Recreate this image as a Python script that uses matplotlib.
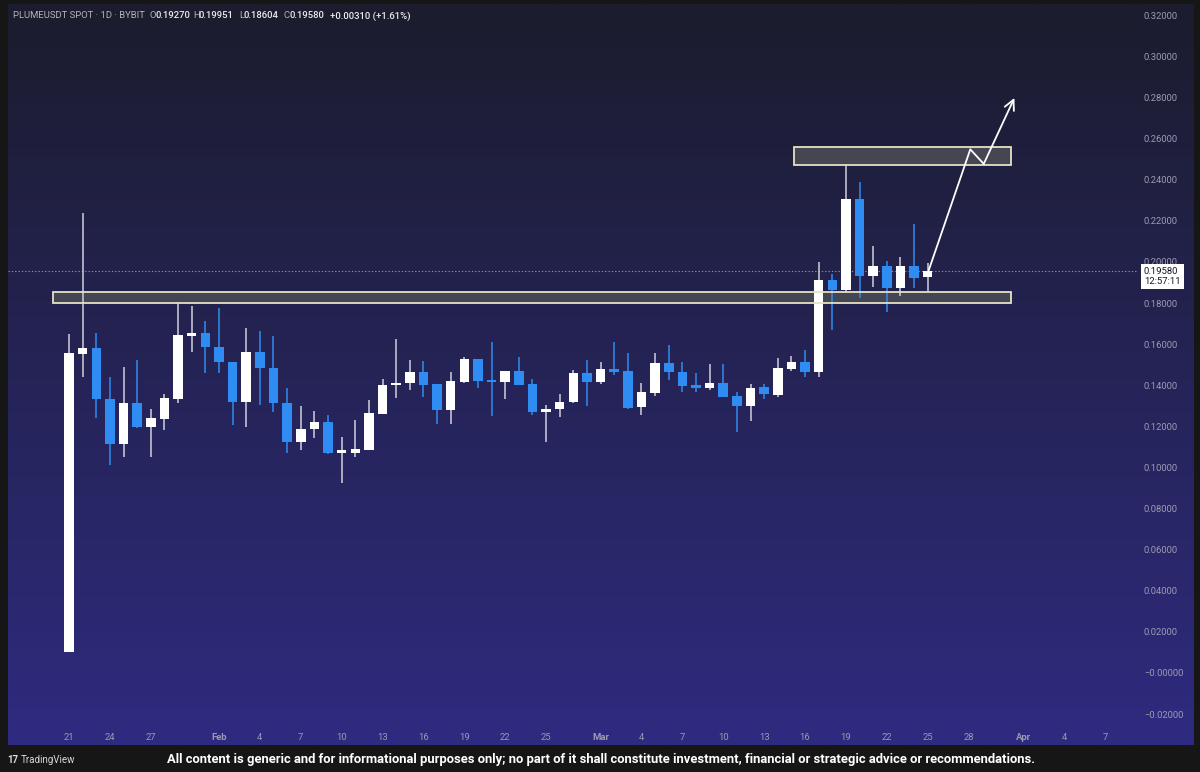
import numpy as np
import pandas as pd
import matplotlib
matplotlib.use("Agg")
import matplotlib.pyplot as plt
import matplotlib.dates as mdates
from matplotlib.patches import Rectangle
from matplotlib.transforms import blended_transform_factory

plt.rcParams['font.family'] = ['Roboto', 'DejaVu Sans']

# Daily candles, PLUMEUSDT spot (Bybit), 21 Jan .. 25 Mar
dates = pd.date_range("2025-01-21", periods=64, freq="D")
opens = [0.0102, 0.1550, 0.1580, 0.1333, 0.1114, 0.1312, 0.1196, 0.1235, 0.1332, 0.1641,
         0.1653, 0.1585, 0.1512, 0.1319, 0.1560, 0.1483, 0.1312, 0.1123, 0.1186, 0.1223,
         0.1072, 0.1072, 0.1085, 0.1260, 0.1400, 0.1410, 0.1466, 0.1405, 0.1280, 0.1418,
         0.1528, 0.1426, 0.1415, 0.1471, 0.1406, 0.1269, 0.1283, 0.1317, 0.1458, 0.1415,
         0.1478, 0.1471, 0.1293, 0.1364, 0.1507, 0.1466, 0.1400, 0.1385, 0.1410, 0.1348,
         0.1301, 0.1390, 0.1353, 0.1478, 0.1512, 0.1466, 0.1912, 0.1864, 0.2307, 0.1933,
         0.1980, 0.1875, 0.1980, 0.1927]
highs = [0.1650, 0.2240, 0.1655, 0.1440, 0.1490, 0.1523, 0.1286, 0.1356, 0.1800, 0.1786,
         0.1713, 0.1775, 0.1515, 0.1677, 0.1666, 0.1640, 0.1385, 0.1300, 0.1276, 0.1255,
         0.1150, 0.1231, 0.1328, 0.1429, 0.1625, 0.1523, 0.1518, 0.1405, 0.1466, 0.1536,
         0.1528, 0.1609, 0.1471, 0.1536, 0.1429, 0.1304, 0.1358, 0.1474, 0.1523, 0.1515,
         0.1609, 0.1556, 0.1410, 0.1556, 0.1596, 0.1515, 0.1458, 0.1502, 0.1502, 0.1369,
         0.1405, 0.1405, 0.1534, 0.1544, 0.1572, 0.1999, 0.1942, 0.2472, 0.2391, 0.2079,
         0.2006, 0.2023, 0.2185, 0.19951]
lows = [0.0102, 0.1440, 0.1240, 0.1012, 0.1053, 0.1192, 0.1053, 0.1180, 0.1312, 0.1564,
        0.1458, 0.1458, 0.1207, 0.1199, 0.1304, 0.1272, 0.1069, 0.1085, 0.1142, 0.1064,
        0.0923, 0.1053, 0.1085, 0.1260, 0.1337, 0.1377, 0.1345, 0.1212, 0.1212, 0.1410,
        0.1385, 0.1252, 0.1333, 0.1401, 0.1255, 0.1126, 0.1244, 0.1312, 0.1299, 0.1405,
        0.1450, 0.1285, 0.1255, 0.1348, 0.1426, 0.1369, 0.1369, 0.1377, 0.1342, 0.1174,
        0.1228, 0.1332, 0.1342, 0.1471, 0.1439, 0.1439, 0.1669, 0.1856, 0.1823, 0.1877,
        0.1758, 0.1836, 0.1872, 0.18604]
closes = [0.1557, 0.1580, 0.1333, 0.1114, 0.1312, 0.1196, 0.1240, 0.1337, 0.1645, 0.1653,
          0.1585, 0.1512, 0.1319, 0.1560, 0.1483, 0.1312, 0.1123, 0.1187, 0.1223, 0.1069,
          0.1076, 0.1090, 0.1264, 0.1401, 0.1413, 0.1466, 0.1401, 0.1280, 0.1422, 0.1528,
          0.1422, 0.1415, 0.1471, 0.1401, 0.1269, 0.1285, 0.1320, 0.1458, 0.1416, 0.1478,
          0.1466, 0.1288, 0.1369, 0.1507, 0.1463, 0.1397, 0.1388, 0.1410, 0.1342, 0.1301,
          0.1388, 0.1358, 0.1483, 0.1512, 0.1466, 0.1912, 0.1864, 0.2307, 0.1933, 0.1980,
          0.1875, 0.1980, 0.1921, 0.19580]

# Drawn zones and projected path
support_zone = (0.1799, 0.1856)
resist_zone = (0.2472, 0.2558)
zone_start = pd.Timestamp("2025-01-19 20:00")
resist_start = pd.Timestamp("2025-03-15 05:00")
zone_end = pd.Timestamp("2025-03-31 02:00")
path_dates = pd.to_datetime(["2025-03-25 01:40", "2025-03-28 03:00",
                             "2025-03-29 02:40", "2025-03-31 08:40"])
path_prices = [0.1958, 0.2548, 0.2477, 0.2798]

# Axis labels
x_tick_dates = pd.to_datetime(["2025-01-21", "2025-01-24", "2025-01-27", "2025-02-01", "2025-02-04",
                               "2025-02-07", "2025-02-10", "2025-02-13", "2025-02-16", "2025-02-19",
                               "2025-02-22", "2025-02-25", "2025-03-01", "2025-03-04", "2025-03-07",
                               "2025-03-10", "2025-03-13", "2025-03-16", "2025-03-19", "2025-03-22",
                               "2025-03-25", "2025-03-28", "2025-04-01", "2025-04-04", "2025-04-07"])
x_tick_labels = ["21", "24", "27", "Feb", "4", "7", "10", "13", "16", "19", "22", "25",
                 "Mar", "4", "7", "10", "13", "16", "19", "22", "25", "28", "Apr", "4", "7"]
y_ticks = [-0.02, 0.0, 0.02, 0.04, 0.06, 0.08, 0.10, 0.12, 0.14, 0.16,
           0.18, 0.20, 0.22, 0.24, 0.26, 0.28, 0.30, 0.32]
y_tick_labels = ["\u22120.02000", "\u22120.00000"] + [f"{v:.5f}" for v in y_ticks[2:]]

UP = "#ffffff"
DOWN = "#2f8cf2"
W, H = 1200, 772

fig = plt.figure(figsize=(W / 100, H / 100), dpi=100, facecolor="#161616")

# gradient panel
bg = fig.add_axes([8 / W, 1 - 745 / H, (1194 - 8) / W, (745 - 4) / H])
top = np.array([0x1b, 0x1c, 0x2d]) / 255
bot = np.array([0x2f, 0x2b, 0x80]) / 255
t = np.linspace(0, 1, 256)[:, None]
grad = top[None, :] * (1 - t) + bot[None, :] * t
bg.imshow(grad[:, None, :], aspect="auto", extent=[0, 1, 0, 1])
bg.axis("off")

ax = fig.add_axes([8 / W, 1 - 727 / H, (1138 - 8) / W, (727 - 4) / H])
ax.patch.set_alpha(0)
for s in ax.spines.values():
    s.set_visible(False)

x = mdates.date2num(dates)
x0 = x[0]
ax.set_xlim(x0 - 4.48, x0 + 78.43)
ax.set_ylim(-0.0263, 0.3255)

# zones
for (lo, hi), start in [(support_zone, zone_start), (resist_zone, resist_start)]:
    xs = mdates.date2num(start)
    xe = mdates.date2num(zone_end)
    ax.add_patch(Rectangle((xs, lo), xe - xs, hi - lo, facecolor="#4a4b55", alpha=0.9,
                           edgecolor="none", zorder=1))
    ax.add_patch(Rectangle((xs, lo), xe - xs, hi - lo, facecolor="none",
                           edgecolor="#e4e2c4", lw=1.3, zorder=4))

# candles
o = np.array(opens); c = np.array(closes); h = np.array(highs); l = np.array(lows)
up = c >= o
cols = np.where(up, UP, DOWN)
wick_cols = np.where(up, "#d0d0dc", DOWN)
ax.vlines(x, l, h, colors=wick_cols, lw=1.1, zorder=2)
body_lo = np.minimum(o, c)
body_h = np.maximum(np.abs(c - o), 0.0011)
ax.bar(x, body_h, bottom=body_lo, width=0.7, color=cols, edgecolor="none", zorder=3)

# last price line
ax.axhline(closes[-1], color="#8c8ca0", lw=0.8, ls=(0, (1.2, 1.8)), zorder=1)

# projected path
px = mdates.date2num(path_dates)
ax.plot(px[:-1], path_prices[:-1], color="white", lw=1.3, zorder=5, solid_capstyle="round")
ax.annotate("", xy=(px[-1], path_prices[-1]), xytext=(px[-2], path_prices[-2]),
            arrowprops=dict(arrowstyle="->", color="white", lw=1.3, mutation_scale=18,
                            shrinkA=0, shrinkB=0), zorder=5)

# axes ticks
ax.set_xticks(mdates.date2num(x_tick_dates))
ax.set_xticklabels(x_tick_labels)
for lab in ax.get_xticklabels():
    if lab.get_text() in ("Feb", "Mar", "Apr"):
        lab.set_fontweight("bold")
ax.tick_params(axis="x", length=0, pad=4, labelsize=6.8, labelcolor="#9a9ab2")
ax.yaxis.tick_right()
ax.set_yticks(y_ticks)
ax.set_yticklabels(y_tick_labels)
ax.tick_params(axis="y", length=0, pad=4.3, labelsize=6.8, labelcolor="#9a9ab2")

# last price tag (sits just under the price line, covering part of the 0.20000 label)
tr = blended_transform_factory(ax.transAxes, ax.transData)
tag_center = closes[-1] - 6 / 2055
ax.text(1.0 + 6 / 1130, tag_center, f"{closes[-1]:.5f}\n12:57:11", transform=tr,
        ha="left", va="center", fontsize=6.8, color="#131722", linespacing=1.05,
        bbox=dict(boxstyle="square,pad=0.35", fc="white", ec="none"), clip_on=False, zorder=6)

# header
hy = 1 - 16 / H
pieces = [("PLUMEUSDT SPOT \u00b7 1D \u00b7 BYBIT", 12.7, "#b4b4bc", "normal"),
          ("O", 150, "#b4b4bc", "normal"), (f"{opens[-1]:.5f}", 155.5, "#ececf0", "medium"),
          ("H", 193, "#b4b4bc", "normal"), (f"{highs[-1]:.5f}", 198.5, "#ececf0", "medium"),
          ("L", 239, "#b4b4bc", "normal"), (f"{lows[-1]:.5f}", 243.5, "#ececf0", "medium"),
          ("C", 284, "#b4b4bc", "normal"), (f"{closes[-1]:.5f}", 289.5, "#ececf0", "medium"),
          ("+0.00310 (+1.61%)", 330, "#ececf0", "medium")]
for txt, px_, col, fw in pieces:
    fig.text(px_ / W, hy, txt, color=col, fontsize=6.8, fontweight=fw, ha="left", va="center")

# footer
fig.text(7 / W, 1 - 760 / H, "17", color="#d8d8d8", fontsize=7, fontweight="bold",
         ha="left", va="center")
fig.text(21 / W, 1 - 760 / H, "TradingView", color="#d8d8d8", fontsize=7,
         ha="left", va="center")
fig.text(601 / W, 1 - 760 / H,
         "All content is generic and for informational purposes only; no part of it shall "
         "constitute investment, financial or strategic advice or recommendations.",
         color="white", fontsize=9.4, fontweight="bold", ha="center", va="center")

fig.savefig("out.png", dpi=100, facecolor=fig.get_facecolor())
